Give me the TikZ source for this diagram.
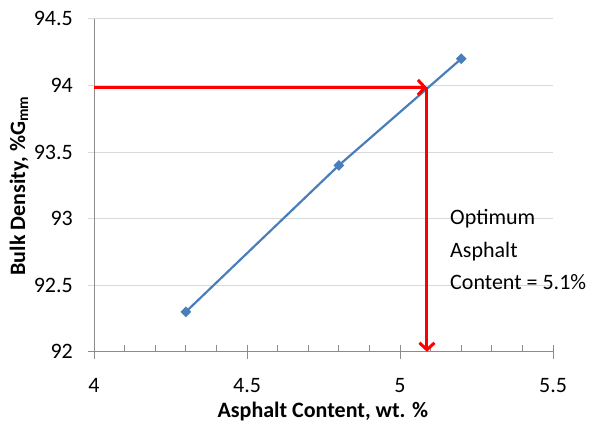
\documentclass[tikz,border=0pt]{standalone}
\usepackage{fontspec}
\setmainfont{Carlito}
\usetikzlibrary{arrows.meta}
\usetikzlibrary{shapes.geometric}
\definecolor{gridgray}{HTML}{D9D9D9}
\definecolor{axisgray}{HTML}{8C8C8C}
\definecolor{lineblue}{HTML}{4A7EBB}
\begin{document}
\begin{tikzpicture}[x=306pt,y=133.2pt,
	grid line/.style={gridgray,line width=1pt},
	axis line/.style={axisgray,line width=1pt},
	data point/.style={diamond,fill=lineblue,inner sep=0pt,minimum size=11pt},
	tick label/.style={font=\fontsize{22}{32.5}\selectfont,inner sep=0pt},
	axis label/.style={font=\fontsize{22}{26}\selectfont\bfseries,inner sep=0pt},
	red arrow/.style={red,line width=3pt,-{Straight Barb[length=7pt,width=15pt]}}]
	
	\useasboundingbox (3.6928,91.3844) rectangle (5.6176,94.6426);
	
	% grid and axes
	\foreach \y in {92.5,93,93.5,94,94.5}
	\draw[grid line] (3.98,\y) -- (5.5,\y);
	\foreach \y in {92,92.5,93,93.5,94,94.5}
	\node[tick label,anchor=east] at ([xshift=-21pt]4,\y) {\y};
	\draw[axis line] (3.98,92) -- (5.5,92);
	\draw[axis line] (4,92) -- (4,94.5);
	\foreach \x in {4.1,4.2,4.3,4.4,4.6,4.7,4.8,4.9,5.1,5.2,5.3,5.4}
	\draw[axis line] (\x,92) -- ++(0,7pt);
	\foreach \x in {4,4.5,5,5.5}{
		\draw[axis line] ([yshift=-7pt]\x,92) -- ++(0,14pt);
		\node[tick label] at ([yshift=-34pt]\x,92) {\x};
	}
	
	\node[axis label] (xlabel) at ([yshift=-60pt]4.748,92) {Asphalt Content, wt. \%};
	\node[axis label,rotate=90] (ylabel) at ([xshift=-75pt]4,93.246) {Bulk Density, \%G\textsubscript{mm}};
	
	% data
	\node[data point] (p1) at (4.3,92.3) {};
	\node[data point] (p2) at (4.8,93.4) {};
	\node[data point] (p3) at (5.2,94.2) {};
	\draw[lineblue,line width=2.2pt] (p1.center) -- (p2.center) -- (p3.center);
	
	% optimum
	\coordinate (ystart) at (4,93.985);
	\coordinate (opt) at (5.088,93.985);
	\coordinate (xend) at (5.088,92);
	\draw[red arrow] (ystart) -- (opt);
	\draw[red,line width=3pt] (opt) -- ([yshift=-1.5pt]opt);
	\draw[red arrow] (opt) -- (xend);
	
	\node[tick label,anchor=west,align=left] (note) at (5.1634,92.766)
	{Optimum\\Asphalt\\Content = 5.1\%};
\end{tikzpicture}
\end{document}
